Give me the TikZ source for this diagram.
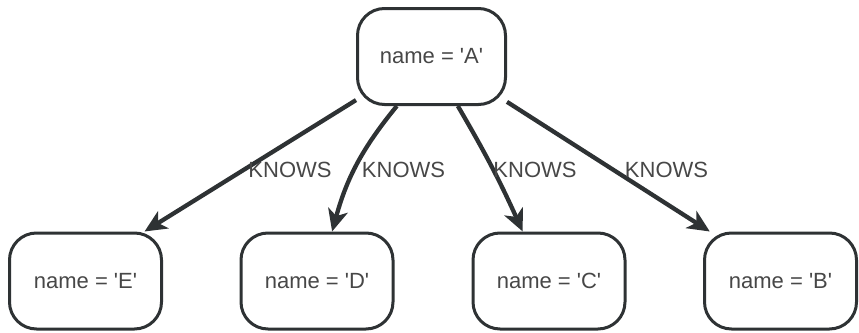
\documentclass[tikz,border=0pt]{standalone}
\usepackage{fontspec}
\newfontfamily\lab{Liberation Sans}
\usetikzlibrary{arrows.meta}
\definecolor{ink}{HTML}{2E3234}
\definecolor{txt}{HTML}{474747}
\tikzset{
  person/.style={draw=ink, line width=3pt, rounded corners=27pt,
    minimum width=152pt, minimum height=96pt, inner sep=0pt,
    font=\lab\fontsize{22}{26}\selectfont, text=txt},
  rel/.style={draw=ink, line width=4.3pt,
    -{Stealth[length=22pt, width=20pt, inset=6pt]}},
  rellabel/.style={font=\lab\fontsize{22}{26}\selectfont, text=txt, inner sep=0pt}
}
\begin{document}
\begin{tikzpicture}[x=1pt, y=-1pt]
  \useasboundingbox (0,0) rectangle (859,332);
  % people
  \node[person, minimum width=148pt] (A) at (431.5,56.5) {name = 'A'};
  \node[person] (E) at (85.5,281) {name = 'E'};
  \node[person] (D) at (317,281) {name = 'D'};
  \node[person] (C) at (549,281) {name = 'C'};
  \node[person] (B) at (780.5,281) {name = 'B'};
  % relationships
  \draw[rel] (A.-150) -- (E.40);
  \draw[rel] (A.-125) to[bend right=12] (D.73);
  \draw[rel] (A.-62) to[bend left=3] (C.118);
  \draw[rel] (A.-31) -- (B.145);
  % relationship labels
  \node[rellabel] (kE) at (290,170) {KNOWS};
  \node[rellabel] (kD) at (403.5,170) {KNOWS};
  \node[rellabel] (kC) at (535,170) {KNOWS};
  \node[rellabel] (kB) at (666.5,170) {KNOWS};
\end{tikzpicture}
\end{document}
